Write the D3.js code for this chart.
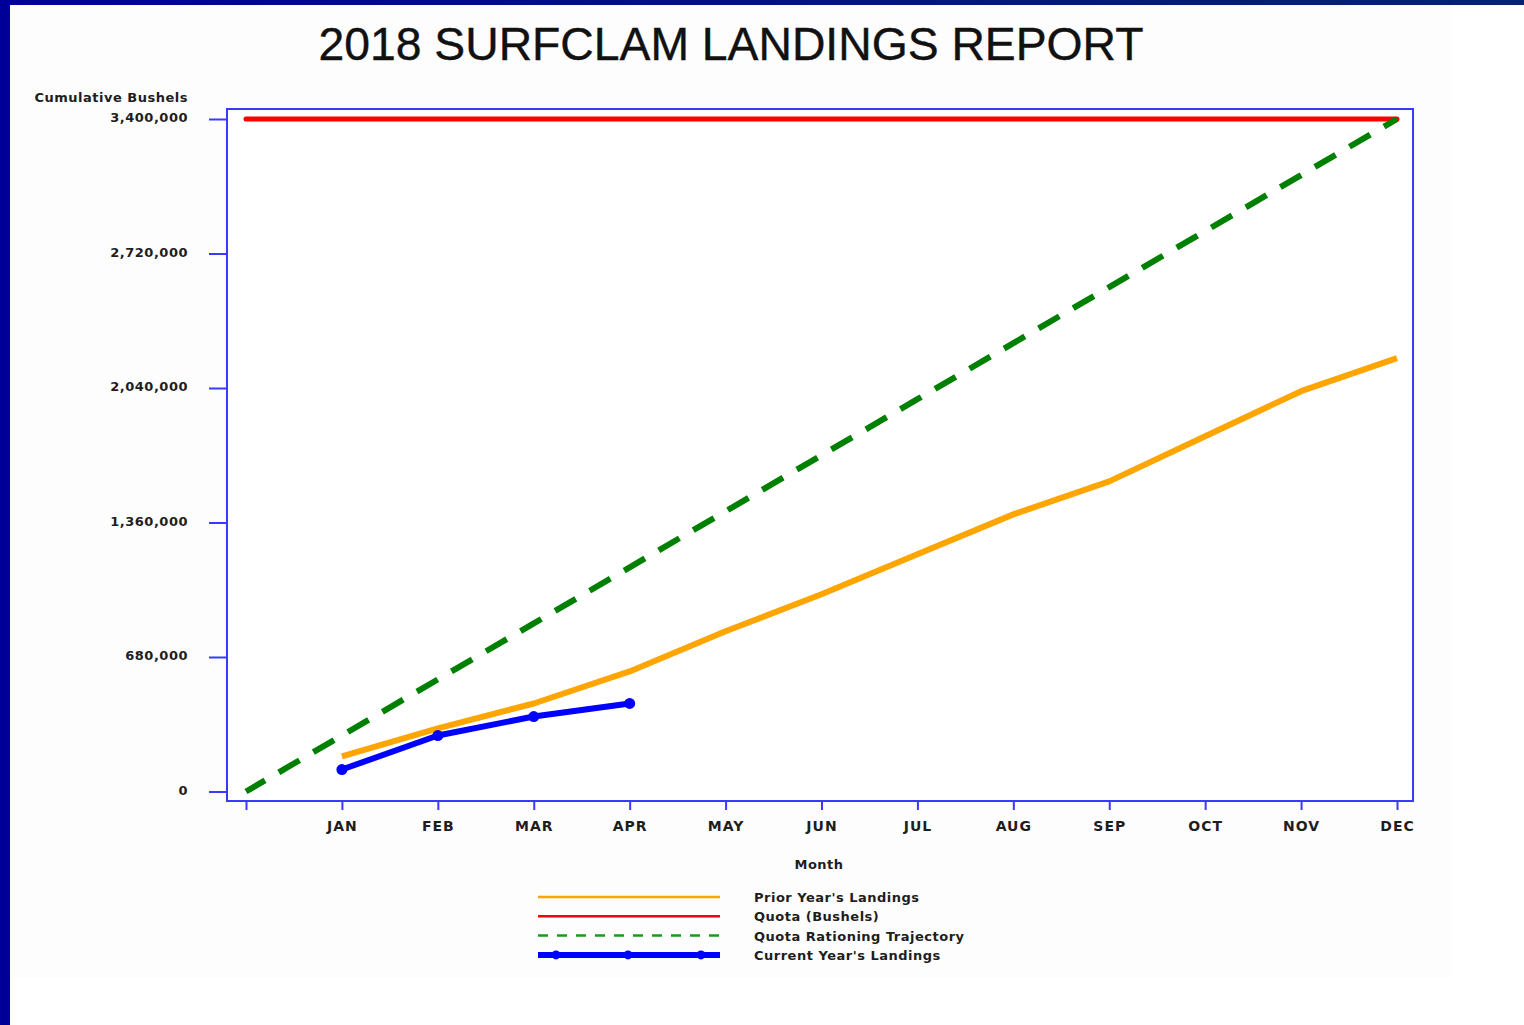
<!DOCTYPE html>
<html>
<head>
<meta charset="utf-8">
<script src="https://cdn.jsdelivr.net/npm/d3@7"></script>
<style>
  body { margin: 0; background: #ffffff; }
  svg { display: block; }
  .lbl { font-family: "DejaVu Sans", Verdana, sans-serif; font-weight: bold; font-size: 13px; letter-spacing: 0.5px; fill: #1e1e1e; }
  .mon { font-size: 14px; letter-spacing: 1px; }
</style>
</head>
<body>
<div class="visuals"></div>
<script>
// month ticks, 0 is the unlabelled start of the year
var months = ['', 'JAN', 'FEB', 'MAR', 'APR', 'MAY', 'JUN', 'JUL', 'AUG', 'SEP', 'OCT', 'NOV', 'DEC'];
var yTicks = [0, 680000, 1360000, 2040000, 2720000, 3400000];

var priorYear = [177000, 319000, 445000, 607000, 810000, 997000, 1199000, 1401000, 1568000, 1796000, 2024000, 2191000];
var currentYear = [111000, 283000, 379000, 445000];
var quota = [3400000, 3400000];
var trajectory = [0, 283333, 566667, 850000, 1133333, 1416667, 1700000, 1983333, 2266667, 2550000, 2833333, 3116667, 3400000];

var legendItems = [
  { name: "Prior Year's Landings", color: '#ffa500', dash: null, width: 2.5, dots: false },
  { name: 'Quota (Bushels)', color: '#ff0000', dash: null, width: 2.5, dots: false },
  { name: 'Quota Rationing Trajectory', color: '#1a9a1a', dash: '10,9', width: 2.5, dots: false },
  { name: "Current Year's Landings", color: '#0000ff', dash: null, width: 6, dots: true }
];

document.addEventListener('DOMContentLoaded', function () {
  var W = 1524, H = 1025;
  var svg = d3.select('.visuals').append('svg')
    .attr('width', W)
    .attr('height', H);

  // slide frame: dark blue top and left bars
  var grad = svg.append('defs').append('linearGradient')
    .attr('id', 'topbar')
    .attr('x1', '0%').attr('x2', '100%');
  grad.append('stop').attr('offset', '0%').attr('stop-color', '#000099');
  grad.append('stop').attr('offset', '100%').attr('stop-color', '#05246a');

  svg.append('rect').attr('x', 10).attr('y', 5).attr('width', 1442).attr('height', 973).style('fill', '#fdfdfd');
  svg.append('rect').attr('x', 0).attr('y', 0).attr('width', W).attr('height', 5).style('fill', 'url(#topbar)');
  svg.append('rect').attr('x', 0).attr('y', 0).attr('width', 10).attr('height', H).style('fill', '#000099');

  svg.append('text')
    .text('2018 SURFCLAM LANDINGS REPORT')
    .attr('x', 731)
    .attr('y', 60)
    .attr('text-anchor', 'middle')
    .style('font-family', '"Liberation Sans", Arial, sans-serif')
    .style('font-size', '46.3px')
    .style('stroke', '#111')
    .style('stroke-width', '0.4px')
    .style('fill', '#111');

  var x = d3.scaleLinear().domain([0, 12]).range([246, 1397]);
  var y = d3.scaleLinear().domain([0, 3400000]).range([791.5, 119]);

  var frameColor = '#3a3aff';

  // plot frame
  svg.append('rect')
    .attr('x', 227)
    .attr('y', 109)
    .attr('width', 1413 - 227)
    .attr('height', 801 - 109)
    .style('fill', 'white')
    .style('stroke', frameColor)
    .style('stroke-width', '2px');

  var yAxis = svg.append('g')
    .attr('transform', 'translate(227,0)')
    .call(d3.axisLeft(y).tickValues(yTicks).tickSize(18).tickPadding(21).tickFormat(d3.format(',')));

  var xAxis = svg.append('g')
    .attr('transform', 'translate(0,801)')
    .call(d3.axisBottom(x).tickValues(d3.range(13)).tickSize(9).tickPadding(11).tickFormat(function(d){ return months[d]; }));

  [yAxis, xAxis].forEach(function(g){
    g.select('.domain').remove();
    g.selectAll('line').style('stroke', frameColor).style('stroke-width', '2px');
    g.selectAll('text').attr('class', 'lbl').attr('fill', null);
  });
  yAxis.selectAll('text').attr('dy', '0.2em');
  xAxis.selectAll('text').classed('mon', true);

  svg.append('text').attr('class', 'lbl')
    .text('Cumulative Bushels')
    .attr('x', 188)
    .attr('y', 102)
    .attr('text-anchor', 'end');

  svg.append('text').attr('class', 'lbl')
    .text('Month')
    .attr('x', 819)
    .attr('y', 869)
    .attr('text-anchor', 'middle');

  var line = d3.line()
    .x(function(d){ return x(d.m); })
    .y(function(d){ return y(d.v); });

  var prior = priorYear.map(function(v, i){ return { m: i + 1, v: v }; });
  var cur = currentYear.map(function(v, i){ return { m: i + 1, v: v }; });
  var quo = [{ m: 0, v: quota[0] }, { m: 12, v: quota[1] }];
  var traj = trajectory.map(function(v, i){ return { m: i, v: v }; });

  svg.append('path')
    .attr('d', line(quo))
    .style('fill', 'none')
    .style('stroke', '#ff0000')
    .style('stroke-width', '5px')
    .style('stroke-linecap', 'round');

  svg.append('path')
    .attr('d', line(traj))
    .style('fill', 'none')
    .style('stroke', '#008000')
    .style('stroke-width', '6px')
    .style('stroke-dasharray', '24,16')
    .style('stroke-dashoffset', '2');

  svg.append('path')
    .attr('d', line(prior))
    .style('fill', 'none')
    .style('stroke', '#ffa500')
    .style('stroke-width', '6px')
    .style('stroke-linejoin', 'round');

  svg.append('path')
    .attr('d', line(cur))
    .style('fill', 'none')
    .style('stroke', '#0000ff')
    .style('stroke-width', '6px')
    .style('stroke-linejoin', 'round');

  svg.selectAll('circle.cur')
    .data(cur)
  .enter().append('circle')
    .attr('class', 'cur')
    .attr('cx', function(d){ return x(d.m); })
    .attr('cy', function(d){ return y(d.v); })
    .attr('r', 5.5)
    .style('fill', '#0000ff');

  // legend
  var leg = svg.selectAll('g.leg')
    .data(legendItems)
  .enter().append('g')
    .attr('class', 'leg')
    .attr('transform', function(d, i){ return 'translate(0,' + (897 + i * 19.3) + ')'; });

  leg.append('line')
    .attr('x1', 538).attr('x2', 720)
    .attr('y1', 0).attr('y2', 0)
    .style('stroke', function(d){ return d.color; })
    .style('stroke-width', function(d){ return d.width + 'px'; })
    .style('stroke-dasharray', function(d){ return d.dash; });

  leg.filter(function(d){ return d.dots; }).selectAll('circle')
    .data([556, 628, 701])
  .enter().append('circle')
    .attr('cx', function(d){ return d; })
    .attr('cy', 0)
    .attr('r', 4.5)
    .style('fill', '#0000ff');

  leg.append('text').attr('class', 'lbl')
    .text(function(d){ return d.name; })
    .attr('x', 754)
    .attr('y', 5);
});
</script>
</body>
</html>
